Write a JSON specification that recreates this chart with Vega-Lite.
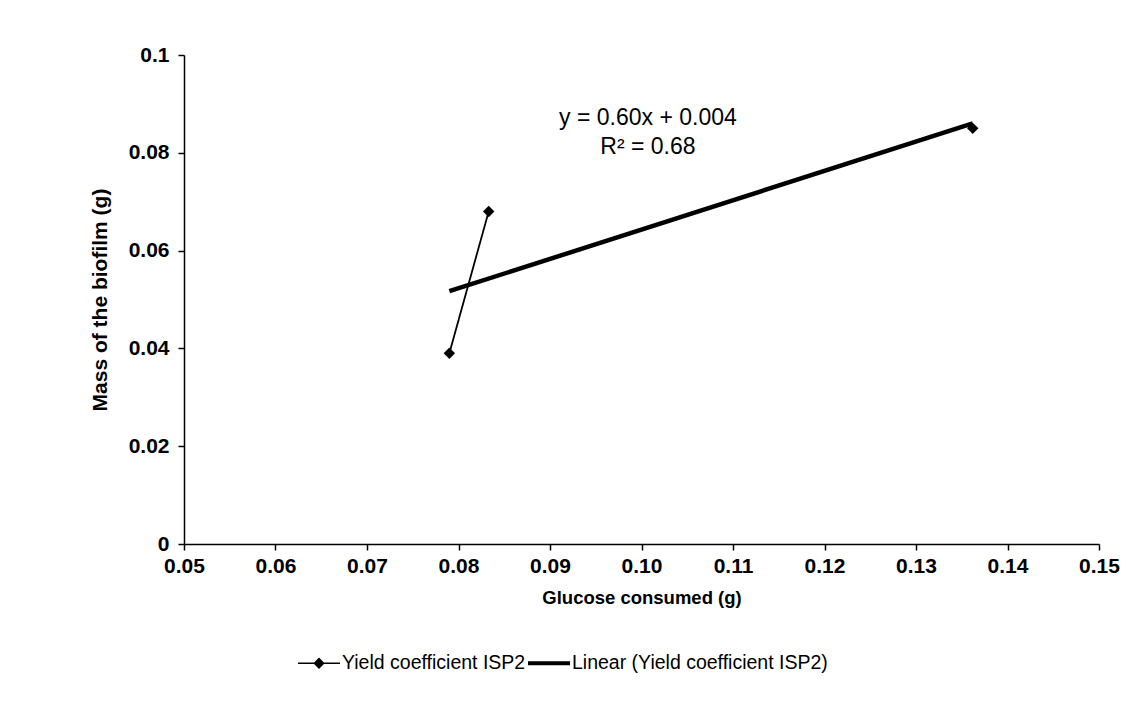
{
  "$schema": "https://vega.github.io/schema/vega-lite/v6.json",
  "autosize": {"type": "none"},
  "width": 915,
  "height": 489,
  "padding": {"left": 184, "top": 55, "right": 39, "bottom": 169},
  "background": "white",
  "config": {
    "font": "Liberation Sans",
    "view": {"stroke": null},
    "axis": {
      "grid": false,
      "labelFlush": false,
      "domainColor": "black",
      "domainWidth": 1.5,
      "tickColor": "black",
      "tickWidth": 1.5,
      "tickSize": 6,
      "labelColor": "black",
      "labelFont": "Liberation Sans",
      "labelFontWeight": "bold",
      "labelFontSize": 21,
      "titleColor": "black",
      "titleFont": "Liberation Sans",
      "titleFontWeight": "bold",
      "titleFontSize": 18.5
    }
  },
  "datasets": {
    "isp2": [
      {"glucose": 0.079, "mass": 0.039, "run": "a"},
      {"glucose": 0.0833, "mass": 0.068, "run": "a"},
      {"glucose": 0.1362, "mass": 0.085, "run": "b"}
    ],
    "keys": [
      {"series": "Yield coefficient ISP2"},
      {"series": "Linear (Yield coefficient ISP2)"}
    ]
  },
  "layer": [
    {
      "data": {"name": "isp2"},
      "mark": {"type": "line", "color": "black", "strokeWidth": 1.8},
      "encoding": {
        "detail": {"field": "run", "type": "nominal"},
        "x": {
          "field": "glucose",
          "type": "quantitative",
          "scale": {"domain": [0.05, 0.15], "nice": false, "zero": false},
          "axis": {
            "title": "Glucose consumed (g)",
            "values": [0.05, 0.06, 0.07, 0.08, 0.09, 0.1, 0.11, 0.12, 0.13, 0.14, 0.15],
            "format": ".2f",
            "labelPadding": 5,
            "titleX": 457.5,
            "titleY": 53,
            "titleBaseline": "middle"
          }
        },
        "y": {
          "field": "mass",
          "type": "quantitative",
          "scale": {"domain": [0, 0.1], "nice": false},
          "axis": {
            "title": "Mass of the biofilm (g)",
            "titleFontSize": 21,
            "values": [0, 0.02, 0.04, 0.06, 0.08, 0.1],
            "labelExpr": "datum.value == 0 ? '0' : format(datum.value, '.2~f')",
            "labelPadding": 9,
            "titleX": -84,
            "titleY": 244.5,
            "titleAngle": 270,
            "titleBaseline": "middle"
          }
        }
      }
    },
    {
      "data": {"name": "isp2"},
      "mark": {"type": "point", "shape": "diamond", "filled": true, "color": "black", "size": 130, "opacity": 1},
      "encoding": {
        "x": {"field": "glucose", "type": "quantitative"},
        "y": {"field": "mass", "type": "quantitative"}
      }
    },
    {
      "data": {"name": "isp2"},
      "transform": [
        {"regression": "mass", "on": "glucose", "extent": [0.079, 0.1362]}
      ],
      "mark": {"type": "line", "color": "black", "strokeWidth": 4.5},
      "encoding": {
        "x": {"field": "glucose", "type": "quantitative"},
        "y": {"field": "mass", "type": "quantitative"}
      }
    },
    {
      "data": {"values": [{}]},
      "mark": {"type": "text", "font": "Liberation Sans", "fontSize": 23, "color": "black", "align": "center", "baseline": "middle", "lineHeight": 29},
      "encoding": {
        "x": {"datum": 0.1007},
        "y": {"datum": 0.0871},
        "text": {"value": ["y = 0.60x + 0.004", "R² = 0.68"]}
      }
    },
    {
      "data": {"name": "keys"},
      "mark": {"type": "point", "opacity": 0, "filled": true, "color": "black"},
      "encoding": {
        "shape": {
          "field": "series",
          "type": "nominal",
          "sort": null,
          "scale": {
            "domain": ["Yield coefficient ISP2", "Linear (Yield coefficient ISP2)"],
            "range": [
              "M-1,-0.04H1V0.04H-1ZM0,-0.27L0.27,0L0,0.27L-0.27,0Z",
              "M-1,-0.09H1V0.09H-1Z"
            ]
          },
          "legend": {
            "title": null,
            "orient": "none",
            "direction": "horizontal",
            "legendX": 114,
            "legendY": 587,
            "symbolSize": 1764,
            "symbolStrokeWidth": 0,
            "symbolFillColor": "black",
            "symbolStrokeColor": "black",
            "labelFont": "Liberation Sans",
            "labelFontSize": 19.5,
            "labelColor": "black",
            "labelLimit": 500,
            "labelOffset": 2,
            "columnPadding": 2,
            "encode": {
              "symbols": {
                "update": {
                  "opacity": {"value": 1},
                  "fill": {"value": "black"},
                  "strokeWidth": {"value": 0}
                }
              }
            }
          }
        }
      }
    }
  ]
}
